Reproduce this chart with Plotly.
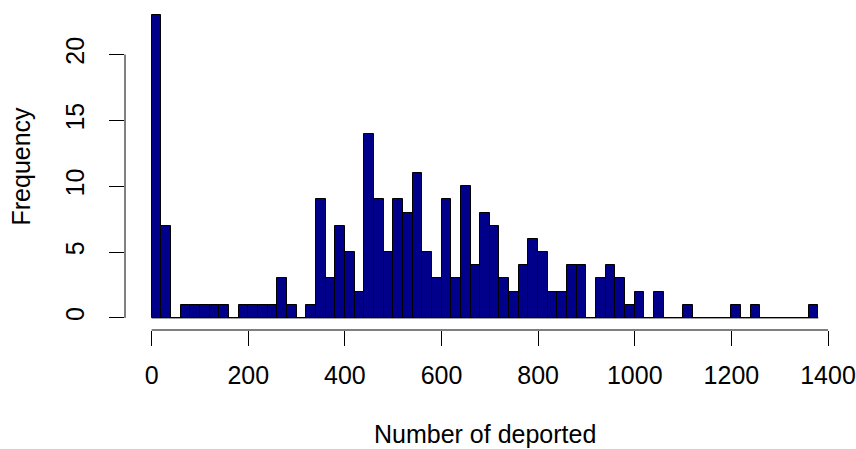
import plotly.graph_objects as go

# Histogram data (bin width 20, starting at 0)
bin_start = 0
bin_width = 20
counts = [23, 7, 0, 1, 1, 1, 1, 1, 0, 1, 1, 1, 1, 3, 1, 0, 1, 9, 3, 7,
          5, 2, 14, 9, 5, 9, 8, 11, 5, 3, 9, 3, 10, 4, 8, 7, 3, 2, 4, 6,
          5, 2, 2, 4, 4, 0, 3, 4, 3, 1, 2, 0, 2, 0, 0, 1, 0, 0, 0, 0,
          1, 0, 1, 0, 0, 0, 0, 0, 1]
x_ticks = [0, 200, 400, 600, 800, 1000, 1200, 1400]
y_ticks = [0, 5, 10, 15, 20]
x_title = "Number of deported"
y_title = "Frequency"

n = len(counts)
lefts = [bin_start + i * bin_width for i in range(n)]
centers = [l + bin_width / 2 for l in lefts]
x_lo, x_hi = lefts[0], lefts[-1] + bin_width
xr = [x_lo - 0.04 * (x_hi - x_lo), x_hi + 0.04 * (x_hi - x_lo)]
ymax = max(counts)
yr = [-0.04 * ymax, ymax * 1.04]

FONT = "Liberation Sans, Arial, Helvetica, sans-serif"
W, H = 856, 449
ML, MR, MT, MB = 125, 11, 3, 119
PW, PH = W - ML - MR, H - MT - MB

fig = go.Figure()
# baseline for empty bins (R draws zero-height rectangles as lines)
fig.add_trace(go.Scatter(x=[x_lo, x_hi], y=[0, 0], mode="lines",
                         line=dict(color="black", width=1), hoverinfo="skip",
                         showlegend=False))
fig.add_trace(go.Bar(x=centers, y=counts, width=[bin_width] * n,
                     marker=dict(color="#00008B", line=dict(color="black", width=1)),
                     showlegend=False))

fig.update_layout(
    width=W, height=H,
    margin=dict(l=ML, r=MR, t=MT, b=MB, autoexpand=False),
    paper_bgcolor="white", plot_bgcolor="white",
    font=dict(family=FONT, size=25, color="black"),
    bargap=0,
    xaxis=dict(range=xr, tickvals=x_ticks, ticktext=[str(v) for v in x_ticks],
               ticks="outside", ticklen=15, tickwidth=1, tickcolor="black",
               showline=False, showgrid=False, zeroline=False, automargin=False,
               ticklabelstandoff=8),
    yaxis=dict(range=yr, tickvals=y_ticks, ticktext=[str(v) for v in y_ticks],
               ticks="outside", ticklen=15, tickwidth=1, tickcolor="black",
               showline=False, showgrid=False, zeroline=False, automargin=False,
               tickangle=-90, ticklabelstandoff=15),
    shapes=[
        dict(type="line", xref="x", yref="paper", x0=x_ticks[0], x1=x_ticks[-1],
             y0=0, y1=0, line=dict(color="black", width=1)),
        dict(type="line", xref="paper", yref="y", x0=0, x1=0,
             y0=y_ticks[0], y1=y_ticks[-1], line=dict(color="black", width=1)),
    ],
    annotations=[
        dict(text=x_title, xref="paper", yref="paper", x=0.5, y=-(434 - (H - MB)) / PH,
             xanchor="center", yanchor="middle", showarrow=False, font=dict(size=25)),
        dict(text=y_title, xref="paper", yref="paper", x=(20 - ML) / PW, y=0.5,
             xanchor="center", yanchor="middle", textangle=-90, showarrow=False,
             font=dict(size=25)),
    ],
)

fig.write_html("out.html",
               config={"displayModeBar": False},
               post_script="document.body.style.margin='0';"
                           "document.body.style.padding='0';"
                           "document.body.style.overflow='hidden';")
